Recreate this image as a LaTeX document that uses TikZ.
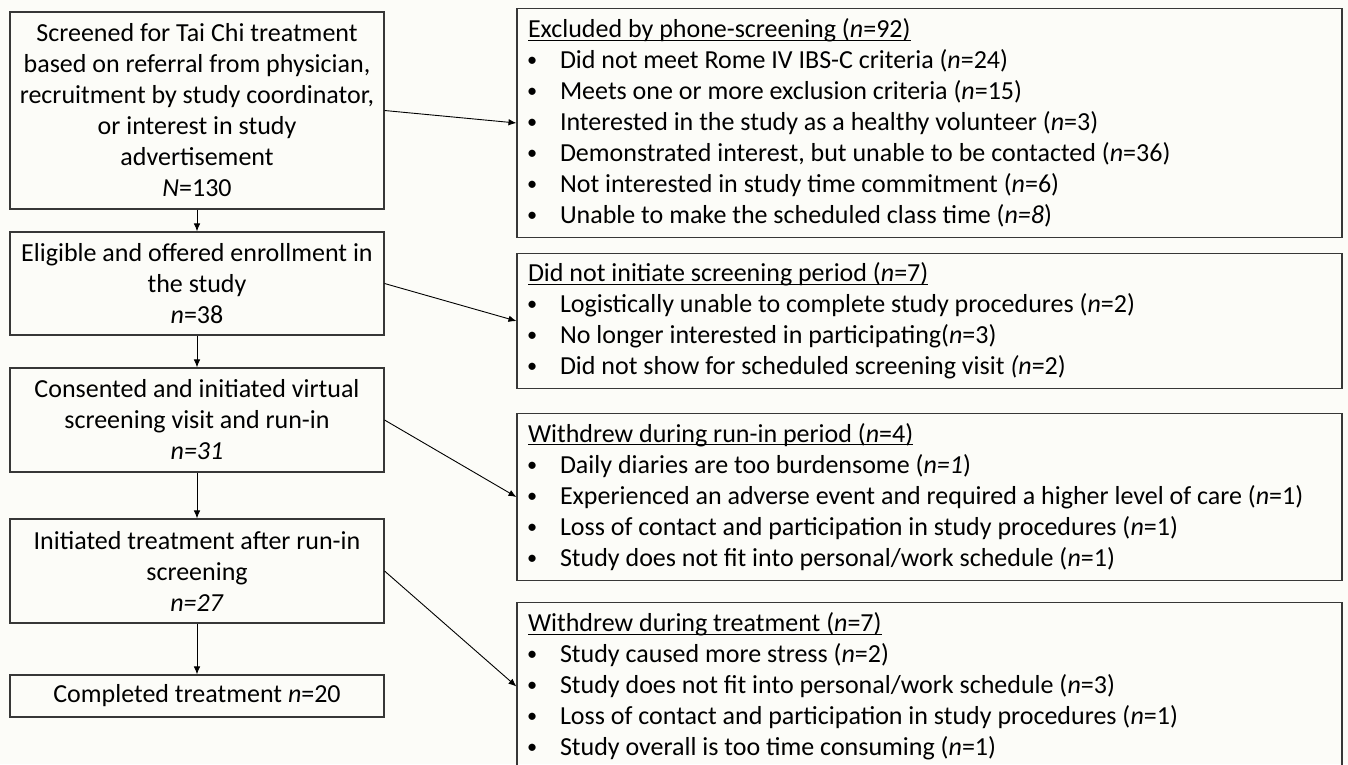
\documentclass[tikz,border=0pt]{standalone}
\usepackage{fontspec}
\setmainfont{Carlito}
\usetikzlibrary{arrows.meta}
\definecolor{bg}{RGB}{252,252,248}
\definecolor{ln}{RGB}{55,55,55}
\newcommand{\itm}[1]{\makebox[32pt][l]{\hspace{-1pt}\raisebox{0.09em}{\scalebox{0.78}{\textbullet}}}#1}
\newcommand{\nn}{\textit{n}}
\newcommand{\myul}[1]{\leavevmode\setbox0\hbox{#1}\rlap{\rule[-3pt]{\wd0}{1.1pt}}\box0}
\newcommand{\lpar}[1]{\parbox{374pt}{\centering #1}}
\newcommand{\rpar}[1]{\parbox{803pt}{\raggedright #1}}
\begin{document}
\begin{tikzpicture}[x=1pt,y=-1pt,
  lbox/.style={draw=ln,line width=1.1pt,minimum width=374pt,inner sep=0pt,
    font=\fontsize{26}{31}\selectfont},
  rbox/.style={draw=ln,line width=1.1pt,minimum width=825pt,inner xsep=11pt,inner ysep=0pt,
    font=\fontsize{26}{31}\selectfont},
  arr/.style={draw=black,line width=0.9pt,-{Latex[length=8pt,width=6.5pt]}}]
\fill[bg] (0,0) rectangle (1348,764);
\useasboundingbox (0,0) rectangle (1348,764);
% left column
\node[lbox,minimum height=197pt] (b1) at (197,110.5) {\lpar{Screened for Tai Chi treatment\\ based on referral from physician,\\ recruitment by study coordinator,\\ or interest in study\\ advertisement\\ \textit{N}=130}};
\node[lbox,minimum height=103pt] (b2) at (197,283.5) {\lpar{Eligible and offered enrollment in\\ the study\\ \nn=38}};
\node[lbox,minimum height=104pt] (b3) at (197,420) {\lpar{Consented and initiated virtual\\ screening visit and run-in\\ \textit{n=31}}};
\node[lbox,minimum height=104pt] (b4) at (197,571) {\lpar{Initiated treatment after run-in\\ screening\\ \textit{n=27}}};
\node[lbox,minimum height=42pt] (b5) at (197,696) {\lpar{Completed treatment \nn=20}};
% right column
\node[rbox,minimum height=229pt] (rA) at (929.5,123) {\rpar{\myul{Excluded by phone-screening (\nn=92)}\\
\itm{Did not meet Rome IV IBS-C criteria (\nn=24)}\\
\itm{Meets one or more exclusion criteria (\nn=15)}\\
\itm{Interested in the study as a healthy volunteer (\nn=3)}\\
\itm{Demonstrated interest, but unable to be contacted (\nn=36)}\\
\itm{Not interested in study time commitment (\nn=6)}\\
\itm{Unable to make the scheduled class time (\textit{n=8})}}};
\node[rbox,minimum height=135pt] (rB) at (929.5,321) {\rpar{\myul{Did not initiate screening period (\nn=7)}\\
\itm{Logistically unable to complete study procedures (\nn=2)}\\
\itm{No longer interested in participating(\nn=3)}\\
\itm{Did not show for scheduled screening visit \textit{(n}=2)}}};
\node[rbox,minimum height=167pt] (rC) at (929.5,497) {\rpar{\myul{Withdrew during run-in period (\nn=4)}\\
\itm{Daily diaries are too burdensome (\textit{n=1})}\\
\itm{Experienced an adverse event and required a higher level of care (\nn=1)}\\
\itm{Loss of contact and participation in study procedures (\nn=1)}\\
\itm{Study does not fit into personal/work schedule (\nn=1)}}};
\node[rbox,minimum height=168pt] (rD) at (929.5,686.5) {\rpar{\myul{Withdrew during treatment (\nn=7)}\\
\itm{Study caused more stress (\nn=2)}\\
\itm{Study does not fit into personal/work schedule (\nn=3)}\\
\itm{Loss of contact and participation in study procedures (\nn=1)}\\
\itm{Study overall is too time consuming (\nn=1)}}};
% connectors
\draw[arr] (b1) -- (b2);
\draw[arr] (b2) -- (b3);
\draw[arr] (b3) -- (b4);
\draw[arr] (b4) -- (b5);
\draw[arr] (b1.east) -- (rA.west);
\draw[arr] (b2.east) -- (rB.west);
\draw[arr] (b3.east) -- (rC.west);
\draw[arr] (b4.east) -- (rD.west);
\end{tikzpicture}
\end{document}
